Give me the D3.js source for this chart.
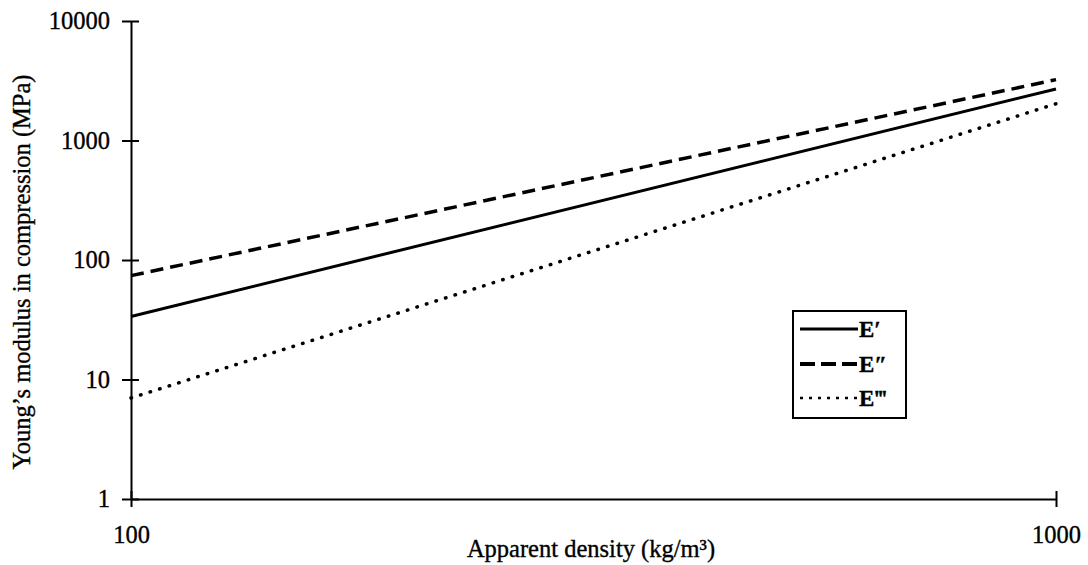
<!DOCTYPE html>
<html>
<head>
<meta charset="utf-8">
<script src="https://cdn.jsdelivr.net/npm/d3@7"></script>
<style>
  html, body { margin: 0; padding: 0; background: #fff; }
  svg text { font-family: "Liberation Serif", "Times New Roman", serif; fill: #000; stroke: #000; stroke-width: 0.35px; }
</style>
</head>
<body>
<svg id="chart" width="1088" height="565"></svg>
<script>
// Data (log-log straight lines)
const density = [100, 1000];              // kg/m³
const eSingle = [33.7, 2700];             // E′
const eDouble = [74, 3230];               // E″
const eTriple = [7.0, 2030];              // E‴
const seriesNames = ["E\u2032", "E\u2033", "E\u2034"];
const yTicks = [1, 10, 100, 1000, 10000];
const xTicks = [100, 1000];

const svg = d3.select("#chart");
const x = d3.scaleLog().domain([100, 1000]).range([131, 1056]);
const y = d3.scaleLog().domain([1, 10000]).range([499, 21]);

const fontSize = 24.5;

// Y axis
const yAxis = svg.append("g")
  .attr("transform", `translate(${x(100)},0)`)
  .call(d3.axisLeft(y).tickValues(yTicks).tickFormat(d3.format("d")).tickSizeInner(9).tickSizeOuter(0).tickPadding(12));
yAxis.select(".domain").attr("stroke", "#000").attr("stroke-width", 2);
yAxis.selectAll(".tick line").attr("x1", 8).attr("stroke", "#000").attr("stroke-width", 2);
yAxis.selectAll(".tick text").attr("font-size", fontSize).style("font-family", "Liberation Serif");

// X axis
const xAxis = svg.append("g")
  .attr("transform", `translate(0,${y(1)})`)
  .call(d3.axisBottom(x).tickValues(xTicks).tickFormat(d3.format("d")).tickSizeInner(8).tickSizeOuter(0).tickPadding(19));
xAxis.select(".domain").attr("stroke", "#000").attr("stroke-width", 2);
xAxis.selectAll(".tick line").attr("y1", -8).attr("stroke", "#000").attr("stroke-width", 2);
xAxis.selectAll(".tick text").attr("font-size", fontSize).style("font-family", "Liberation Serif");

// Axis titles
svg.append("text")
  .attr("x", 591).attr("y", 557)
  .attr("text-anchor", "middle")
  .attr("font-size", fontSize)
  .text("Apparent density (kg/m\u00B3)");

svg.append("text")
  .attr("transform", `translate(30,${272}) rotate(-90)`)
  .attr("text-anchor", "middle")
  .attr("font-size", fontSize)
  .text("Young\u2019s modulus in compression (MPa)");

// Lines
const styles = [
  { data: eSingle, dash: null, width: 3, cap: "butt" },
  { data: eDouble, dash: "13,7", width: 3.5, cap: "butt" },
  { data: eTriple, dash: "0.5,9.5", width: 3.5, cap: "round" }
];
const line = d3.line().x(d => x(d[0])).y(d => y(d[1]));
styles.forEach(s => {
  svg.append("path")
    .datum(density.map((d, i) => [d, s.data[i]]))
    .attr("d", line)
    .attr("fill", "none")
    .attr("stroke", "#000")
    .attr("stroke-width", s.width)
    .attr("stroke-linecap", s.cap)
    .attr("stroke-dasharray", s.dash);
});

// Legend
const lg = svg.append("g");
lg.append("rect")
  .attr("x", 793).attr("y", 311).attr("width", 113).attr("height", 107)
  .attr("fill", "#fff").attr("stroke", "#000").attr("stroke-width", 2);
const legendStyles = [
  { dash: null, width: 3, cap: "butt" },
  { dash: "15,6", width: 4, cap: "butt" },
  { dash: "3,6", width: 2.5, cap: "butt" }
];
const legendY = [329, 364, 398];
seriesNames.forEach((name, i) => {
  lg.append("line")
    .attr("x1", 800).attr("x2", 858)
    .attr("y1", legendY[i]).attr("y2", legendY[i])
    .attr("stroke", "#000")
    .attr("stroke-width", legendStyles[i].width)
    .attr("stroke-dasharray", legendStyles[i].dash);
  lg.append("text")
    .attr("x", 859).attr("y", legendY[i] + 8)
    .attr("font-size", 23)
    .attr("font-weight", "bold")
    .text(name);
});
</script>
</body>
</html>
